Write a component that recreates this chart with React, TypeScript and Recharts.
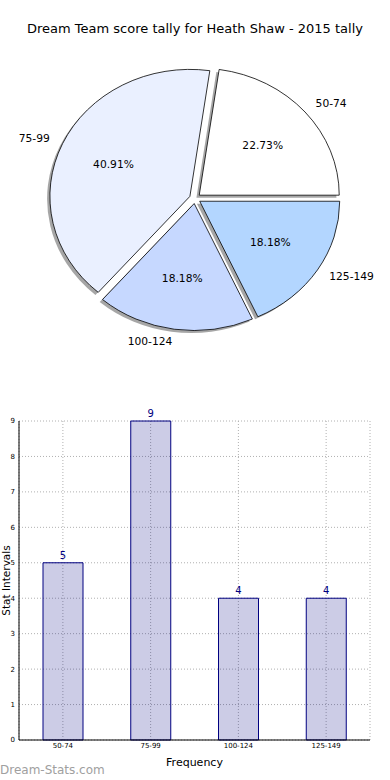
import React from "react";
import {
  PieChart,
  Pie,
  Cell,
  BarChart,
  Bar,
  XAxis,
  YAxis,
  CartesianGrid,
  LabelList,
  Label,
} from "recharts";

const categories = ["50-74", "75-99", "100-124", "125-149"];
const counts = [5, 9, 4, 4];
const pieColors = ["#ffffff", "#eaf0ff", "#c6d8ff", "#b3d6ff"];
const yTicks = [0, 1, 2, 3, 4, 5, 6, 7, 8, 9];

const FONT = "'DejaVu Sans', sans-serif";
const RX = 140;
const RY = 127;
const EXPLODE = 0.04;
const RAD = Math.PI / 180;

const data = categories.map((name, i) => ({ name, value: counts[i] }));

// elliptical wedge, since the original axes were not square
function wedgePath(cx: number, cy: number, a0: number, a1: number) {
  const x0 = cx + RX * Math.cos(a0 * RAD);
  const y0 = cy - RY * Math.sin(a0 * RAD);
  const x1 = cx + RX * Math.cos(a1 * RAD);
  const y1 = cy - RY * Math.sin(a1 * RAD);
  const large = Math.abs(a1 - a0) > 180 ? 1 : 0;
  return `M${cx},${cy} L${x0},${y0} A${RX},${RY} 0 ${large} 0 ${x1},${y1} Z`;
}

function explodedCenter(cx: number, cy: number, mid: number) {
  return {
    x: cx + EXPLODE * RX * Math.cos(mid * RAD),
    y: cy - EXPLODE * RY * Math.sin(mid * RAD),
  };
}

function ShadowShape(props: any) {
  const { cx, cy, startAngle, endAngle, midAngle } = props;
  const c = explodedCenter(cx, cy, midAngle);
  return (
    <path
      d={wedgePath(c.x - 0.02 * RX, c.y + 0.02 * RY, startAngle, endAngle)}
      fill="#4d4d4d"
      fillOpacity={0.5}
      stroke="none"
    />
  );
}

function WedgeShape(props: any) {
  const { cx, cy, startAngle, endAngle, midAngle, fill } = props;
  const c = explodedCenter(cx, cy, midAngle);
  return (
    <path
      d={wedgePath(c.x, c.y, startAngle, endAngle)}
      fill={fill}
      stroke="#000"
      strokeWidth={0.8}
    />
  );
}

function renderLabel(props: any) {
  const { cx, cy, midAngle, percent, name } = props;
  const c = explodedCenter(cx, cy, midAngle);
  const cos = Math.cos(midAngle * RAD);
  const sin = Math.sin(midAngle * RAD);
  const ox = c.x + 1.1 * RX * cos;
  const oy = c.y - 1.1 * RY * sin;
  const px = c.x + 0.6 * RX * cos;
  const py = c.y - 0.6 * RY * sin;
  return (
    <g style={{ fontFamily: FONT, fontSize: 10.7 }}>
      <text x={ox} y={oy} textAnchor={ox > c.x ? "start" : "end"} dominantBaseline="central" fill="#000">
        {name}
      </text>
      <text x={px} y={py} textAnchor="middle" dominantBaseline="central" fill="#000">
        {(percent * 100).toFixed(2) + "%"}
      </text>
    </g>
  );
}

export default function App() {
  return (
    <div style={{ position: "absolute", left: 0, top: 0, width: 390, height: 780, background: "#fff", fontFamily: FONT }}>
      <div style={{ position: "absolute", top: 21, left: 0, width: 390, textAlign: "center", fontSize: 13, color: "#000" }}>
        Dream Team score tally for Heath Shaw - 2015 tally
      </div>

      <div style={{ position: "absolute", top: 0, left: 0 }}>
        <PieChart width={390} height={370} margin={{ top: 0, right: 0, bottom: 0, left: 0 }}>
          <Pie
            data={data}
            dataKey="value"
            nameKey="name"
            cx={195}
            cy={198.5}
            outerRadius={RX}
            startAngle={0}
            endAngle={360}
            shape={ShadowShape}
            isAnimationActive={false}
            label={false}
            labelLine={false}
          />
          <Pie
            data={data}
            dataKey="value"
            nameKey="name"
            cx={195}
            cy={198.5}
            outerRadius={RX}
            startAngle={0}
            endAngle={360}
            shape={WedgeShape}
            isAnimationActive={false}
            label={renderLabel}
            labelLine={false}
          >
            {data.map((d, i) => (
              <Cell key={d.name} fill={pieColors[i]} />
            ))}
          </Pie>
        </PieChart>
      </div>

      <div style={{ position: "absolute", top: 400, left: 0 }}>
        <BarChart width={390} height={370} data={data} margin={{ top: 21, right: 20, bottom: 0, left: 0 }} barSize={40}>
          <CartesianGrid stroke="#b0b0b0" strokeDasharray="1 2" />
          <XAxis
            dataKey="name"
            height={30}
            interval={0}
            tickLine={false}
            tickSize={2}
            tickMargin={1}
            axisLine={{ stroke: "#000" }}
            tick={{ fontSize: 7, fill: "#000", fontFamily: FONT }}
          >
            <Label value="Frequency" position="insideBottom" offset={4} style={{ fontSize: 11, fill: "#000", fontFamily: FONT }} />
          </XAxis>
          <XAxis xAxisId="top" dataKey="name" orientation="top" height={0} tick={false} tickLine={false} axisLine={{ stroke: "#000" }} />
          <YAxis
            width={19}
            domain={[0, 9]}
            ticks={yTicks}
            interval={0}
            tickLine={false}
            tickSize={2}
            tickMargin={2}
            axisLine={{ stroke: "#000" }}
            tick={{ fontSize: 7, fill: "#000", fontFamily: FONT }}
          >
            <Label
              value="Stat Intervals"
              angle={-90}
              position="insideLeft"
              offset={6}
              style={{ fontSize: 10.5, fill: "#000", fontFamily: FONT, textAnchor: "middle" }}
            />
          </YAxis>
          <YAxis yAxisId="right" orientation="right" width={0} domain={[0, 9]} tick={false} tickLine={false} axisLine={{ stroke: "#000" }} />
          <Bar dataKey="value" fill="#000080" fillOpacity={0.2} stroke="#000080" strokeWidth={1} isAnimationActive={false}>
            <LabelList dataKey="value" position="top" offset={4} style={{ fontSize: 10, fill: "#000080", fontFamily: FONT }} />
          </Bar>
        </BarChart>
      </div>

      <div style={{ position: "absolute", top: 763, left: 0, fontSize: 12, color: "#a0a0a0" }}>Dream-Stats.com</div>
    </div>
  );
}
